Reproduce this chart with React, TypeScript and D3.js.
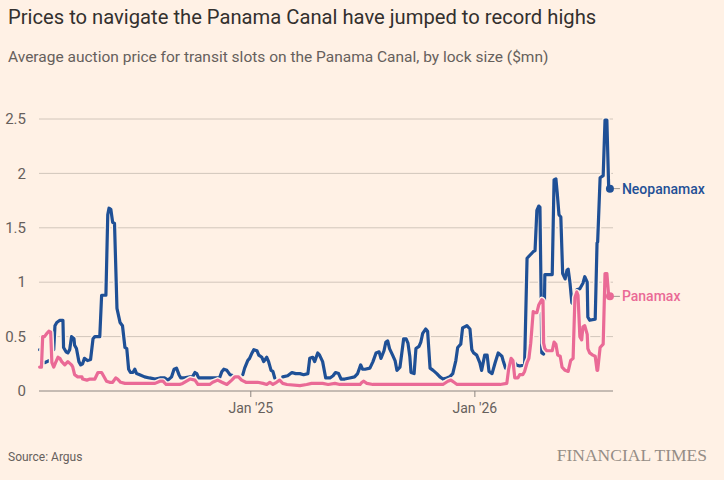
import React from 'react';
import * as d3 from 'd3';

const neoDates = [
  '2024-01-23','2024-01-25','2024-01-28','2024-01-31','2024-02-08','2024-02-12','2024-02-15','2024-02-17','2024-02-20','2024-02-25',
  '2024-03-01','2024-03-02','2024-03-06','2024-03-09','2024-03-12','2024-03-15','2024-03-19','2024-03-20','2024-03-23','2024-03-27',
  '2024-03-30','2024-04-02','2024-04-05','2024-04-10','2024-04-15','2024-04-19','2024-04-22','2024-04-30','2024-05-03','2024-05-10',
  '2024-05-13','2024-05-15','2024-05-18','2024-05-21','2024-05-24','2024-05-28','2024-06-02','2024-06-06','2024-06-10','2024-06-13',
  '2024-06-16','2024-06-19','2024-06-23','2024-06-26','2024-06-29','2024-07-04','2024-07-12','2024-07-20','2024-07-29','2024-08-06',
  '2024-08-14','2024-08-19','2024-08-25','2024-08-29','2024-09-02','2024-09-06','2024-09-09','2024-09-15','2024-09-24','2024-09-28',
  '2024-10-02','2024-10-05','2024-10-08','2024-10-18','2024-10-29','2024-11-11','2024-11-15','2024-11-18','2024-11-23','2024-11-28',
  '2024-12-04','2024-12-11','2024-12-19','2024-12-22','2024-12-27','2024-12-30','2025-01-03','2025-01-06','2025-01-11','2025-01-14',
  '2025-01-19','2025-01-22','2025-01-27','2025-01-30','2025-02-03','2025-02-06','2025-02-09','2025-02-16','2025-02-22','2025-03-02',
  '2025-03-09','2025-03-15','2025-03-22','2025-03-28','2025-04-04','2025-04-07','2025-04-12','2025-04-15','2025-04-20','2025-04-23',
  '2025-04-28','2025-05-03','2025-05-10','2025-05-15','2025-05-19','2025-05-24','2025-05-28','2025-06-03','2025-06-11','2025-06-19',
  '2025-06-24','2025-06-29','2025-07-02','2025-07-06','2025-07-14','2025-07-19','2025-07-24','2025-07-29','2025-08-01','2025-08-06',
  '2025-08-09','2025-08-12','2025-08-15','2025-08-20','2025-08-24','2025-08-27','2025-09-01','2025-09-04','2025-09-07','2025-09-11',
  '2025-09-14','2025-09-17','2025-09-19','2025-09-24','2025-09-27','2025-10-02','2025-10-05','2025-10-08','2025-10-13','2025-10-16',
  '2025-10-20','2025-10-25','2025-10-31','2025-11-05','2025-11-10','2025-11-16','2025-11-21','2025-11-26','2025-12-01','2025-12-04',
  '2025-12-09','2025-12-12','2025-12-19','2025-12-24','2025-12-27','2025-12-30','2026-01-04','2026-01-09','2026-01-12','2026-01-17',
  '2026-01-21','2026-01-24','2026-01-29','2026-02-03','2026-02-08','2026-02-14','2026-02-16','2026-02-20','2026-02-24','2026-03-01',
  '2026-03-06','2026-03-09','2026-03-15','2026-03-23','2026-03-27','2026-04-01','2026-04-06','2026-04-09','2026-04-12','2026-04-15',
  '2026-04-17','2026-04-19','2026-04-20','2026-04-23','2026-04-25','2026-05-07','2026-05-10','2026-05-13','2026-05-15','2026-05-18',
  '2026-05-21','2026-05-24','2026-05-28','2026-05-31','2026-06-02','2026-06-05','2026-06-08','2026-06-10','2026-06-16','2026-06-21',
  '2026-06-26','2026-06-29','2026-07-03','2026-07-04','2026-07-07','2026-07-16','2026-07-19','2026-07-20','2026-07-24','2026-07-29',
  '2026-08-01','2026-08-04','2026-08-07','2026-08-09',
];
const neoValues: (number | null)[] = [
  0.38, 0.38, null, 0.26, 0.28, null, 0.38, 0.60, 0.63, 0.65,
  0.65, 0.40, 0.36, 0.35, 0.38, 0.50, 0.48, 0.42, 0.39, 0.27,
  0.24, 0.25, 0.30, 0.28, 0.29, 0.48, 0.50, 0.50, 0.88, 0.88,
  1.62, 1.68, 1.67, 1.55, 1.54, 0.76, 0.63, 0.60, 0.40, 0.39,
  0.20, 0.17, 0.17, 0.20, 0.16, 0.15, 0.13, 0.12, 0.11, 0.12,
  0.12, 0.10, 0.13, 0.20, 0.21, 0.15, 0.12, 0.12, 0.13, 0.13,
  0.17, 0.16, 0.12, 0.12, 0.12, 0.12, 0.18, 0.20, 0.19, 0.15,
  0.14, null, 0.15, 0.21, 0.28, 0.30, 0.35, 0.38, 0.37, 0.33,
  0.31, 0.27, 0.31, 0.27, 0.19, 0.18, 0.12, null, 0.13, 0.14,
  0.17, 0.16, 0.16, 0.15, 0.16, 0.30, 0.31, 0.27, 0.35, 0.33,
  0.27, 0.12, 0.12, 0.14, 0.17, 0.16, 0.11, 0.11, 0.12, 0.13,
  0.16, 0.24, 0.20, 0.20, 0.21, 0.27, 0.35, 0.36, 0.30, 0.37,
  0.45, 0.46, 0.39, 0.33, 0.28, 0.19, 0.22, 0.35, 0.48, 0.48,
  0.44, 0.32, 0.17, 0.16, 0.39, 0.41, 0.45, 0.53, 0.57, 0.55,
  0.21, 0.19, 0.16, 0.13, 0.11, 0.12, 0.13, 0.16, 0.28, 0.40,
  0.43, 0.58, 0.60, 0.57, 0.38, 0.35, 0.33, 0.26, 0.19, 0.33,
  0.33, 0.18, 0.16, 0.26, 0.35, 0.32, 0.28, 0.21, null, 0.28,
  0.27, 0.24, 0.23, 0.24, 1.22, 1.25, 1.28, 1.29, 1.66, 1.70,
  1.69, 0.84, 0.35, 0.34, 1.07, 1.07, 1.94, 1.95, 1.83, 1.62,
  1.60, 1.08, 1.03, 1.11, 1.12, 0.99, 0.81, 0.80, 0.93, 0.94,
  0.99, 1.05, 1.00, 0.68, 0.65, 0.66, 1.36, 1.37, 1.96, 1.98,
  2.49, 2.49, 1.86, 1.86,
];

const panDates = [
  '2024-01-23','2024-01-26','2024-01-28','2024-01-31','2024-02-04','2024-02-07','2024-02-10','2024-02-12','2024-02-15','2024-02-18',
  '2024-02-22','2024-02-25','2024-02-28','2024-03-04','2024-03-09','2024-03-15','2024-03-17','2024-03-20','2024-03-25','2024-04-01',
  '2024-04-02','2024-04-09','2024-04-14','2024-04-22','2024-04-27','2024-05-03','2024-05-06','2024-05-11','2024-05-16','2024-05-21',
  '2024-05-26','2024-05-29','2024-06-03','2024-06-10','2024-06-26','2024-07-12','2024-07-29','2024-08-06','2024-08-11','2024-08-16',
  '2024-08-22','2024-09-07','2024-09-12','2024-09-24','2024-10-02','2024-10-07','2024-10-26','2024-10-31','2024-11-08','2024-11-15',
  '2024-11-23','2024-12-01','2024-12-06','2024-12-12','2024-12-17','2024-12-24','2025-01-04','2025-01-12','2025-01-21','2025-01-27',
  '2025-02-01','2025-02-06','2025-02-12','2025-02-17','2025-02-22','2025-03-01','2025-03-22','2025-04-02','2025-04-10','2025-04-28',
  '2025-05-07','2025-05-18','2025-05-26','2025-06-28','2025-07-01','2025-07-04','2025-07-09','2025-07-19','2025-08-04','2025-08-20',
  '2025-09-17','2025-10-15','2025-11-10','2025-11-18','2025-11-23','2025-11-28','2025-12-03','2025-12-29','2026-01-09','2026-02-11',
  '2026-02-22','2026-02-25','2026-03-01','2026-03-04','2026-03-07','2026-03-12','2026-03-15','2026-03-20','2026-03-23','2026-03-27',
  '2026-03-30','2026-04-02','2026-04-06','2026-04-09','2026-04-12','2026-04-15','2026-04-20','2026-04-22','2026-04-23','2026-04-25',
  '2026-04-28','2026-05-07','2026-05-10','2026-05-13','2026-05-16','2026-05-20','2026-05-23','2026-05-28','2026-06-02','2026-06-06',
  '2026-06-10','2026-06-13','2026-06-16','2026-06-18','2026-06-21','2026-06-24','2026-06-26','2026-06-29','2026-07-03','2026-07-04',
  '2026-07-07','2026-07-12','2026-07-16','2026-07-19','2026-07-20','2026-07-24','2026-07-29','2026-08-01','2026-08-04','2026-08-07',
  '2026-08-09',
];
const panValues: (number | null)[] = [
  0.22, 0.22, 0.50, 0.50, 0.53, 0.55, 0.54, 0.26, 0.22, 0.26,
  0.31, 0.30, 0.27, 0.24, 0.27, 0.24, 0.22, 0.15, 0.13, 0.13,
  0.11, 0.10, 0.11, 0.11, 0.17, 0.17, 0.14, 0.09, 0.08, 0.08,
  0.12, 0.11, 0.08, 0.07, 0.07, 0.07, 0.07, 0.09, 0.09, 0.06,
  0.06, 0.06, 0.07, 0.11, 0.10, 0.06, 0.06, 0.08, 0.10, 0.08,
  0.06, 0.10, 0.13, 0.13, 0.10, 0.08, 0.08, 0.08, 0.07, 0.06,
  0.08, 0.06, 0.08, 0.10, 0.07, 0.06, 0.05, 0.06, 0.07, 0.07,
  0.06, 0.07, 0.06, 0.06, 0.08, 0.09, 0.07, 0.06, 0.06, 0.06,
  0.06, 0.06, 0.06, 0.09, 0.10, 0.08, 0.06, 0.06, 0.06, 0.06,
  0.07, 0.20, 0.30, 0.28, 0.12, 0.12, 0.15, 0.15, 0.18, 0.26,
  0.30, 0.44, 0.73, 0.72, 0.72, 0.79, 0.84, 0.83, 0.44, 0.39,
  0.37, 0.37, 0.45, 0.43, 0.33, 0.32, 0.22, 0.19, 0.18, 0.28,
  0.30, 0.86, 0.91, 0.88, 0.50, 0.47, 0.59, 0.60, 0.52, 0.39,
  0.35, 0.33, 0.32, 0.19, 0.19, 0.40, 0.43, 1.08, 1.08, 0.87,
  0.87,
];

const yTicks = [0, 0.5, 1, 1.5, 2, 2.5];
const yTickLabels = ['0', '0.5', '1', '1.5', '2', '2.5'];
const xTickDates = ['2025-01-01', '2026-01-01'];
const xTickLabels = ["Jan '25", "Jan '26"];
const xDomain = ['2024-01-22', '2026-08-14'];
const seriesNames = ['Neopanamax', 'Panamax'];

const title = 'Prices to navigate the Panama Canal have jumped to record highs';
const subtitle = 'Average auction price for transit slots on the Panama Canal, by lock size ($mn)';
const source = 'Source: Argus';

type Pt = { d: Date; v: number | null };

export default function App() {
  const W = 724, H = 480;
  const parse = d3.timeParse('%Y-%m-%d');
  const left = 39, right = 613, top = 119, bottom = 391;
  const x = d3.scaleTime().domain(xDomain.map((s) => parse(s) as Date)).range([left, right]);
  const y = d3.scaleLinear().domain([0, 2.5]).range([bottom, top]);

  const neo: Pt[] = neoDates.map((s, i) => ({ d: parse(s) as Date, v: neoValues[i] }));
  const pan: Pt[] = panDates.map((s, i) => ({ d: parse(s) as Date, v: panValues[i] }));

  const line = d3
    .line<Pt>()
    .defined((p) => p.v != null)
    .x((p) => x(p.d))
    .y((p) => y(p.v as number));

  const bg = '#FFF1E5';
  const blue = '#1f5096';
  const pink = '#ea6a96';
  const font = 'Roboto, "Noto Sans", sans-serif';

  const series = [
    { name: seriesNames[0], data: neo, color: blue },
    { name: seriesNames[1], data: pan, color: pink },
  ];

  return (
    <>
      <style>{`body{margin:0;background:${bg};}`}</style>
      <svg width={W} height={H} style={{ display: 'block', background: bg }} fontFamily={font}>
        <rect x={0} y={0} width={W} height={H} fill={bg} />
        <text x={8} y={24} fontSize={20.2} fill="#33302e">{title}</text>
        <text x={8} y={62} fontSize={15.5} fill="#66605c">{subtitle}</text>

        {yTicks.map((t, i) => (
          <g key={t}>
            <line
              x1={left}
              x2={right}
              y1={y(t)}
              y2={y(t)}
              stroke={t === 0 ? '#8c8580' : '#d2c6bb'}
              strokeWidth={1}
            />
            <text x={26} y={y(t)} dy="0.35em" textAnchor="end" fontSize={15} fill="#66605c">
              {yTickLabels[i]}
            </text>
          </g>
        ))}

        {xTickDates.map((s, i) => {
          const xx = x(parse(s) as Date);
          return (
            <g key={s}>
              <line x1={xx} x2={xx} y1={bottom} y2={bottom + 6} stroke="#8c8580" />
              <text x={xx} y={413} textAnchor="middle" fontSize={14} fill="#66605c">
                {xTickLabels[i]}
              </text>
            </g>
          );
        })}

        {series.map((s) => (
          <g key={s.name}>
            <path d={line(s.data) || ''} fill="none" stroke={bg} strokeWidth={6} strokeLinejoin="round" strokeLinecap="round" />
            <path d={line(s.data) || ''} fill="none" stroke={s.color} strokeWidth={3.2} strokeLinejoin="round" strokeLinecap="round" />
          </g>
        ))}

        {series.map((s) => {
          const last = s.data[s.data.length - 1];
          const lx = x(last.d);
          const ly = y(last.v as number);
          return (
            <g key={s.name + '-label'}>
              <line x1={lx + 3} x2={lx + 10} y1={ly} y2={ly} stroke="#a09890" strokeWidth={1} />
              <circle cx={lx} cy={ly} r={4} fill={s.color} />
              <text x={lx + 12} y={ly} dy="0.35em" fontSize={14} fontWeight={500} fill={s.color}>
                {s.name}
              </text>
            </g>
          );
        })}

        <text x={8} y={461} fontSize={12} fill="#66605c">{source}</text>
        <text
          x={707}
          y={461}
          textAnchor="end"
          fontSize={17.5}
          fill="#958d86"
          fontFamily='"Liberation Serif", "DejaVu Serif", serif'
        >
          FINANCIAL TIMES
        </text>
      </svg>
    </>
  );
}
